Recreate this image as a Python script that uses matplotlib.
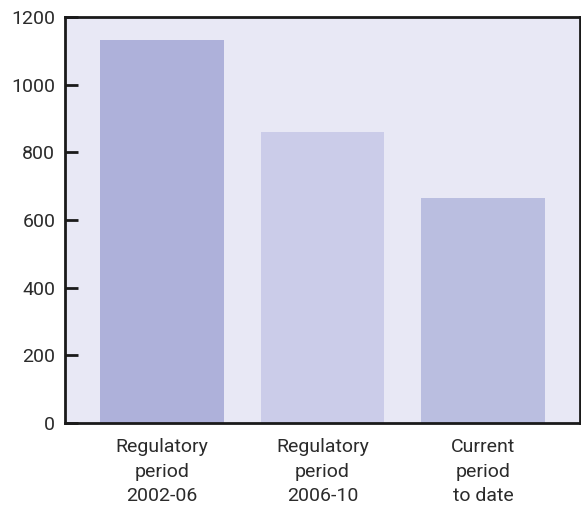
import matplotlib
matplotlib.use("Agg")
import matplotlib.pyplot as plt

categories = ["Regulatory\nperiod\n2002-06", "Regulatory\nperiod\n2006-10", "Current\nperiod\nto date"]
values = [1131, 860, 665]
bar_colors = ["#aeb1da", "#cbcce9", "#babee0"]
yticks = [0, 200, 400, 600, 800, 1000, 1200]

plt.rcParams["font.family"] = ["Roboto", "DejaVu Sans"]

fig = plt.figure(figsize=(5.81, 5.08), dpi=100)
ax = fig.add_axes([65 / 581, 1 - 423 / 508, 515 / 581, 406 / 508])
ax.set_facecolor("#e8e8f5")

x = list(range(len(categories)))
ax.bar(x, values, width=0.77, color=bar_colors, zorder=2)

ax.set_xlim(-0.6, 2.6)
ax.set_ylim(0, 1200)
ax.set_yticks(yticks)
ax.set_yticklabels([str(t) for t in yticks], fontsize=14, color="#2b2b2b")
ax.tick_params(axis="y", direction="in", length=9, width=2, color="#1a1a1a", pad=7)
ax.set_xticks(x)
ax.set_xticklabels(categories, fontsize=14, color="#2b2b2b", linespacing=1.45)
ax.tick_params(axis="x", length=0, pad=11)

for side in ["left", "bottom", "top", "right"]:
    ax.spines[side].set_color("#1a1a1a")
    ax.spines[side].set_linewidth(2)
    ax.spines[side].set_zorder(3)

fig.savefig("out.png", dpi=100, facecolor="white")
